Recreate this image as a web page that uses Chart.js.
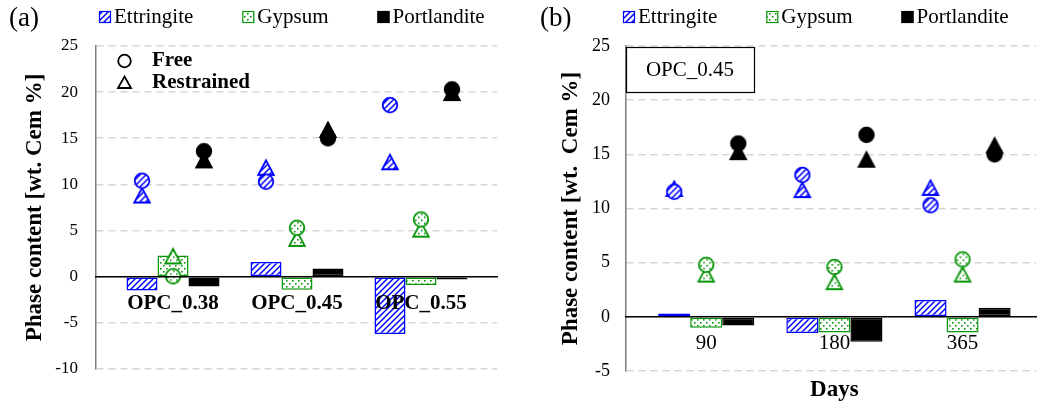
<!DOCTYPE html>
<html>
<head>
<meta charset="utf-8">
<title>Phase content</title>
<script src="https://cdn.jsdelivr.net/npm/chart.js@4/dist/chart.umd.min.js"></script>
<style>
    body { margin: 0; width: 1045px; height: 404px; overflow: hidden; background: #fff; }
    #panel-a { position: absolute; left: 0; top: 0; }
    #panel-b { position: absolute; left: 522px; top: 0; }
</style>
</head>
<body>
<canvas id="panel-a" width="522" height="404"></canvas>
<canvas id="panel-b" width="523" height="404"></canvas>
<script>
// ---- data ----
const phases = ["Ettringite", "Gypsum", "Portlandite"];

// (a) per w/c ratio
const mixes = ["OPC_0.38", "OPC_0.45", "OPC_0.55"];
const ettringiteDiffA = [-1.5, 1.6, -6.2];
const gypsumDiffA = [2.3, -1.4, -0.9];
const portlanditeDiffA = [-1.05, 0.9, -0.3];
const ettringiteFreeA = [10.4, 10.3, 18.6];
const ettringiteRestrainedA = [8.8, 11.8, 12.4];
const gypsumFreeA = [0.05, 5.3, 6.2];
const gypsumRestrainedA = [2.2, 4.1, 5.1];
const portlanditeFreeA = [13.6, 15.0, 20.3];
const portlanditeRestrainedA = [12.6, 15.9, 19.9];

// (b) OPC_0.45 over time
const days = ["90", "180", "365"];
const ettringiteDiffB = [0.3, -1.5, 1.55];
const gypsumDiffB = [-1.0, -1.45, -1.45];
const portlanditeDiffB = [-0.8, -2.3, 0.85];
const ettringiteFreeB = [11.55, 13.1, 10.3];
const ettringiteRestrainedB = [11.8, 11.7, 11.9];
const gypsumFreeB = [4.8, 4.6, 5.3];
const gypsumRestrainedB = [3.9, 3.2, 3.9];
const portlanditeFreeB = [16.0, 16.8, 15.0];
const portlanditeRestrainedB = [15.2, 14.5, 15.8];

// ---- styles ----
Chart.defaults.font.family = '"Liberation Serif", "Times New Roman", serif';
Chart.defaults.color = "#000";

const phaseColors = ["#0000ff", "#0a960a", "#000000"];
const groupShare = 0.75;

function hatchTile(color) {
    const c = document.createElement("canvas");
    c.width = 6; c.height = 6;
    const g = c.getContext("2d");
    g.fillStyle = "#fff";
    g.fillRect(0, 0, 6, 6);
    g.strokeStyle = color;
    g.lineWidth = 1.5;
    g.beginPath();
    g.moveTo(0, 6); g.lineTo(6, 0);
    g.moveTo(-1, 1); g.lineTo(1, -1);
    g.moveTo(5, 7); g.lineTo(7, 5);
    g.stroke();
    return c;
}

function dotTile(color) {
    const c = document.createElement("canvas");
    c.width = 6; c.height = 6;
    const g = c.getContext("2d");
    g.fillStyle = "#fff";
    g.fillRect(0, 0, 6, 6);
    g.fillStyle = color;
    g.fillRect(1, 1, 1.6, 1.6);
    g.fillRect(4, 4, 1.6, 1.6);
    return c;
}

const tiles = [hatchTile(phaseColors[0]), dotTile(phaseColors[1]), null];
const paint = (g, j) => tiles[j] ? g.createPattern(tiles[j], "repeat") : phaseColors[j];
const fills = [0, 1, 2].map(j => paint(document.createElement("canvas").getContext("2d"), j));

// marker glyphs, centred on their box like the spreadsheet markers
function marker(shape, j) {
    const c = document.createElement("canvas");
    c.width = 20; c.height = 20;
    const g = c.getContext("2d");
    g.beginPath();
    if (shape === "circle") {
        g.arc(10, 10, 7.3, 0, Math.PI * 2);
    } else {
        g.moveTo(10, 2.5);
        g.lineTo(17.8, 17);
        g.lineTo(2.2, 17);
        g.closePath();
    }
    g.fillStyle = paint(g, j);
    g.fill();
    g.strokeStyle = phaseColors[j];
    g.lineWidth = 1.8;
    g.stroke();
    return c;
}

function buildDatasets(diffs, free, restrained) {
    const sets = [];
    phases.forEach((name, j) => {
        sets.push({
            type: "bar",
            label: name,
            order: 2,
            data: diffs[j].map((v, i) => ({x: i + 1, y: v})),
            backgroundColor: fills[j],
            borderColor: phaseColors[j],
            borderWidth: 1.5,
            borderSkipped: false
        });
    });
    // markers sit over the middle of their own bar
    const shift = j => (j - (phases.length - 1) / 2) * groupShare / phases.length;
    phases.forEach((name, j) => {
        [[free, "circle"], [restrained, "triangle"]].forEach(([vals, shape]) => {
            sets.push({
                type: "scatter",
                label: name + " " + shape,
                order: 1,
                data: vals[j].map((v, i) => ({x: i + 1 + shift(j), y: v})),
                pointStyle: marker(shape, j),
                pointRadius: 8
            });
        });
    });
    return sets;
}

const decorations = {
    id: "decorations",
    afterDraw(chart, args, opts) {
        const ctx = chart.ctx;
        const area = chart.chartArea;
        ctx.save();
        ctx.textBaseline = "middle";
        ctx.fillStyle = "#000";
        ctx.font = '27px "Liberation Serif"';
        ctx.fillText(opts.panel, opts.panelX, 19);

        ctx.font = '21px "Liberation Serif"';
        let x = opts.legendX;
        phases.forEach((name, j) => {
            ctx.fillStyle = fills[j];
            ctx.fillRect(x, 11, 12, 12);
            ctx.strokeStyle = phaseColors[j];
            ctx.lineWidth = 1.2;
            ctx.strokeRect(x + 0.5, 11.5, 11, 11);
            ctx.fillStyle = "#000";
            ctx.fillText(name, x + 15, 17);
            x += 15 + ctx.measureText(name).width + 49;
        });

        if (opts.markerLegend) {
            const mx = area.left + 28.5;
            ctx.strokeStyle = "#000";
            ctx.lineWidth = 1.8;
            ctx.beginPath();
            ctx.arc(mx, 61, 6.3, 0, Math.PI * 2);
            ctx.stroke();
            ctx.beginPath();
            ctx.moveTo(mx, 76.5);
            ctx.lineTo(mx + 6.5, 88);
            ctx.lineTo(mx - 6.5, 88);
            ctx.closePath();
            ctx.stroke();
            ctx.font = 'bold 21px "Liberation Serif"';
            ctx.fillText("Free", area.left + 56, 61);
            ctx.fillText("Restrained", area.left + 56, 83);
        }

        if (opts.note) {
            ctx.fillStyle = "#fff";
            ctx.fillRect(area.left, area.top + 1, 128, 45);
            ctx.strokeStyle = "#000";
            ctx.lineWidth = 1.2;
            ctx.strokeRect(area.left + 0.5, area.top + 1.5, 128, 45);
            ctx.fillStyle = "#000";
            ctx.textAlign = "center";
            ctx.font = '21px "Liberation Serif"';
            ctx.fillText(opts.note, area.left + 64, area.top + 24);
        }

        if (opts.xTitle) {
            ctx.textAlign = "center";
            ctx.font = 'bold 23px "Liberation Serif"';
            ctx.fillText(opts.xTitle, chart.scales.x.getPixelForValue(2), 390);
        }
        ctx.restore();
    }
};

function makePanel(id, cfg) {
    new Chart(document.getElementById(id), {
        type: "bar",
        data: {datasets: buildDatasets(cfg.diffs, cfg.free, cfg.restrained)},
        plugins: [decorations],
        options: {
            responsive: false,
            animation: false,
            events: [],
            categoryPercentage: groupShare,
            barPercentage: 1,
            layout: {padding: cfg.padding},
            plugins: {
                legend: {display: false},
                tooltip: {enabled: false},
                decorations: cfg.deco
            },
            scales: {
                x: {
                    type: "linear",
                    position: {y: 0},
                    offset: false,
                    min: cfg.xMin,
                    max: cfg.xMax,
                    afterBuildTicks: axis => { axis.ticks = cfg.labels.map((l, i) => ({value: i + 1})); },
                    grid: {display: false, drawTicks: false, offset: false},
                    border: {color: "#000", width: 1.5, z: 1},
                    ticks: {
                        z: 1,
                        autoSkip: false,
                        maxRotation: 0,
                        padding: cfg.xPad,
                        font: {size: 21, weight: cfg.xBold ? "bold" : "normal"},
                        callback: v => cfg.labels[v - 1] || ""
                    }
                },
                y: {
                    min: cfg.yMin,
                    max: 25,
                    afterFit: axis => { axis.width = cfg.yWidth; },
                    grid: {color: "#d6d6d6", lineWidth: 1.6, drawTicks: false},
                    border: {color: "#7f7f7f", width: 1.5, dash: [7, 5]},
                    ticks: {stepSize: 5, padding: cfg.yPad, font: {size: cfg.yFont}},
                    title: {
                        display: true,
                        text: cfg.yTitle,
                        font: {size: 23, weight: "bold"},
                        padding: {top: cfg.yTitlePad, bottom: 0}
                    }
                }
            }
        }
    });
}

makePanel("panel-a", {
    labels: mixes,
    diffs: [ettringiteDiffA, gypsumDiffA, portlanditeDiffA],
    free: [ettringiteFreeA, gypsumFreeA, portlanditeFreeA],
    restrained: [ettringiteRestrainedA, gypsumRestrainedA, portlanditeRestrainedA],
    xMin: 0.379, xMax: 3.613, xPad: 14, xBold: true,
    yMin: -10, yWidth: 96, yPad: 18, yFont: 17, yTitlePad: 21,
    yTitle: "Phase content [wt. Cem %]",
    padding: {top: 46, bottom: 35, left: 0, right: 25},
    deco: {panel: "(a)", panelX: 9, legendX: 99, markerLegend: true}
});

makePanel("panel-b", {
    labels: days,
    diffs: [ettringiteDiffB, gypsumDiffB, portlanditeDiffB],
    free: [ettringiteFreeB, gypsumFreeB, portlanditeFreeB],
    restrained: [ettringiteRestrainedB, gypsumRestrainedB, portlanditeRestrainedB],
    xMin: 0.374, xMax: 3.573, xPad: 14, xBold: false,
    yMin: -5, yWidth: 104, yPad: 16, yFont: 18, yTitlePad: 35,
    yTitle: "Phase content [wt.  Cem %]",
    padding: {top: 46, bottom: 33, left: 0, right: 0},
    deco: {panel: "(b)", panelX: 18, legendX: 101, note: "OPC_0.45", xTitle: "Days"}
});
</script>
</body>
</html>
